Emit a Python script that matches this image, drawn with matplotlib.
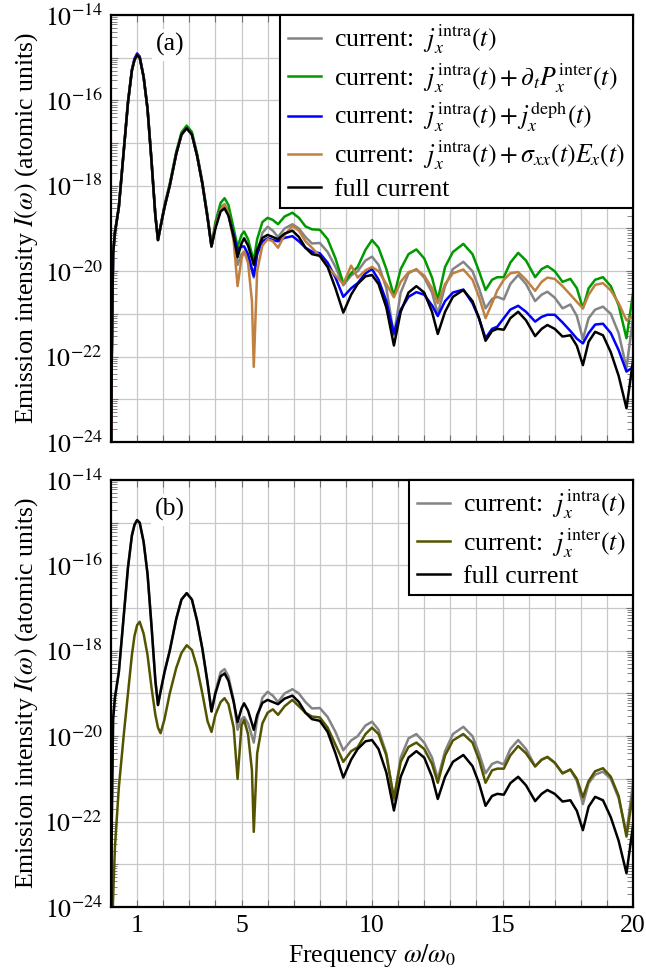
import numpy as np
import matplotlib
matplotlib.use("Agg")
import matplotlib.pyplot as plt
from matplotlib.ticker import FixedLocator, LogLocator, FuncFormatter, NullFormatter

plt.rcParams["font.family"] = ["Liberation Serif", "DejaVu Serif"]
plt.rcParams["mathtext.fontset"] = "stix"

# frequency omega/omega_0
FREQ = [0.0, 0.03, 0.08, 0.15, 0.3, 0.5, 0.65, 0.8, 0.9, 1.0,
        1.1, 1.25, 1.4, 1.55, 1.7, 1.8, 1.9, 2.05, 2.25, 2.5,
        2.7, 2.9, 3.1, 3.3, 3.5, 3.7, 3.85, 4.0, 4.2, 4.35,
        4.5, 4.7, 4.85, 5.0, 5.1, 5.25, 5.4, 5.47, 5.6, 5.8,
        6.0, 6.2, 6.4, 6.65, 6.95, 7.2, 7.45, 7.7, 8.0, 8.3,
        8.6, 8.9, 9.2, 9.45, 9.75, 10.0, 10.25, 10.55, 10.84, 11.1,
        11.4, 11.7, 12.0, 12.3, 12.52, 12.8, 13.1, 13.5, 13.85, 14.1,
        14.35, 14.6, 14.8, 15.05, 15.3, 15.6, 15.9, 16.25, 16.5, 16.72,
        17.0, 17.3, 17.6, 17.85, 18.08, 18.3, 18.55, 18.85, 19.15, 19.45,
        19.75, 20.0]

# log10 of the emission intensity
FULL = [-25.5, -22.0, -19.6, -19.1, -18.5, -17.1, -16.05, -15.3, -15.05, -14.94,
        -15.0, -15.45, -16.2, -17.4, -18.7, -19.27, -18.95, -18.5, -18.0, -17.25,
        -16.8, -16.65, -16.8, -17.3, -17.95, -18.75, -19.42, -19.0, -18.6, -18.53,
        -18.7, -19.2, -19.67, -19.35, -19.23, -19.4, -19.7, -19.85, -19.5, -19.22,
        -19.15, -19.2, -19.25, -19.12, -19.05, -19.2, -19.45, -19.6, -19.64, -19.9,
        -20.4, -20.97, -20.55, -20.3, -20.12, -20.09, -20.3, -20.85, -21.74, -20.95,
        -20.5, -20.35, -20.5, -20.95, -21.47, -20.95, -20.6, -20.44, -20.7, -21.1,
        -21.63, -21.4, -21.35, -21.37, -21.1, -20.95, -21.15, -21.52, -21.35, -21.26,
        -21.35, -21.53, -21.5, -21.75, -22.2, -21.65, -21.42, -21.5, -21.9, -22.45,
        -23.21, -22.1]

INTRA = [-25.5, -22.0, -19.6, -19.1, -18.5, -17.1, -16.05, -15.3, -15.05, -14.94,
         -15.0, -15.45, -16.2, -17.4, -18.7, -19.27, -18.95, -18.5, -18.0, -17.25,
         -16.8, -16.65, -16.8, -17.3, -17.95, -18.75, -19.42, -18.95, -18.5, -18.43,
         -18.6, -19.15, -19.85, -19.6, -19.55, -19.7, -20.0, -20.15, -19.6, -19.1,
         -18.96, -19.05, -19.2, -19.0, -18.9, -19.0, -19.2, -19.35, -19.34, -19.55,
         -19.9, -20.33, -20.1, -20.0, -19.75, -19.66, -19.85, -20.4, -21.5, -20.5,
         -20.05, -19.95, -20.15, -20.5, -21.0, -20.35, -19.95, -19.78, -20.0, -20.4,
         -20.87, -20.65, -20.6, -20.66, -20.3, -20.09, -20.3, -20.7, -20.55, -20.48,
         -20.62, -20.87, -20.78, -21.05, -21.59, -21.1, -20.9, -20.83, -21.0, -21.45,
         -22.27, -21.1]

INTRA_DPDT = [-25.5, -22.0, -19.6, -19.1, -18.5, -17.1, -16.05, -15.3, -15.05, -14.94,
              -15.0, -15.45, -16.2, -17.4, -18.7, -19.27, -18.95, -18.45, -17.95, -17.2,
              -16.75, -16.59, -16.74, -17.25, -17.9, -18.7, -19.4, -18.85, -18.4, -18.29,
              -18.45, -19.0, -19.43, -19.15, -19.07, -19.25, -19.6, -19.74, -19.25, -18.85,
              -18.75, -18.8, -18.9, -18.72, -18.63, -18.75, -18.95, -19.02, -19.03, -19.25,
              -19.7, -20.28, -20.05, -19.9, -19.5, -19.27, -19.45, -19.95, -20.58, -19.95,
              -19.6, -19.49, -19.7, -20.15, -20.67, -19.9, -19.55, -19.36, -19.6, -20.0,
              -20.44, -20.2, -20.14, -20.14, -19.8, -19.57, -19.75, -20.14, -19.95, -19.88,
              -20.0, -20.25, -20.18, -20.4, -20.87, -20.4, -20.2, -20.14, -20.35, -20.8,
              -21.57, -20.52]

INTRA_DEPH = [-25.5, -22.0, -19.6, -19.1, -18.5, -17.1, -16.05, -15.28, -15.02, -14.9,
              -14.97, -15.45, -16.2, -17.4, -18.7, -19.27, -18.95, -18.5, -18.0, -17.25,
              -16.8, -16.65, -16.8, -17.3, -17.95, -18.75, -19.42, -18.95, -18.55, -18.5,
              -18.68, -19.15, -19.5, -19.42, -19.42, -19.6, -19.95, -20.11, -19.6, -19.3,
              -19.23, -19.27, -19.3, -19.22, -19.18, -19.3, -19.45, -19.54, -19.58, -19.8,
              -20.15, -20.6, -20.4, -20.28, -20.05, -19.95, -20.2, -20.7, -21.46, -20.9,
              -20.6, -20.49, -20.55, -20.8, -21.05, -20.7, -20.5, -20.43, -20.75, -21.1,
              -21.57, -21.35, -21.3, -21.1, -20.9, -20.81, -20.95, -21.18, -21.07, -21.02,
              -21.02, -21.2, -21.4, -21.58, -21.69, -21.45, -21.25, -21.23, -21.45, -21.85,
              -22.35, -22.25]

INTRA_SIGMA = [-25.5, -22.0, -19.6, -19.1, -18.5, -17.1, -16.05, -15.3, -15.05, -14.94,
               -15.0, -15.45, -16.2, -17.4, -18.7, -19.27, -18.95, -18.5, -18.0, -17.25,
               -16.8, -16.65, -16.8, -17.3, -17.95, -18.75, -19.42, -18.95, -18.55, -18.45,
               -18.65, -19.3, -20.35, -19.7, -19.54, -19.8, -20.7, -22.24, -20.0, -19.4,
               -19.25, -19.3, -19.45, -19.15, -18.94, -19.05, -19.3, -19.45, -19.65, -19.9,
               -20.1, -20.3, -19.87, -20.15, -19.98, -19.9, -20.0, -20.3, -20.61, -20.25,
               -20.02, -19.97, -20.1, -20.4, -20.75, -20.3, -20.05, -19.96, -20.2, -20.6,
               -21.1, -20.75, -20.45, -20.2, -20.05, -20.02, -20.2, -20.46, -20.25, -20.15,
               -20.18, -20.35, -20.55, -20.72, -20.87, -20.55, -20.32, -20.28, -20.45, -20.75,
               -21.15, -21.05]

INTER = [-26.0, -25.0, -23.8, -22.6, -21.2, -19.9, -19.0, -18.1, -17.65, -17.4,
         -17.32, -17.6, -18.1, -18.85, -19.5, -19.8, -19.93, -19.6, -19.0, -18.4,
         -18.05, -17.87, -17.98, -18.4, -19.0, -19.65, -19.9, -19.5, -19.2, -19.11,
         -19.25, -19.8, -21.0, -19.75, -19.62, -19.95, -20.8, -22.24, -20.4, -19.7,
         -19.45, -19.37, -19.5, -19.3, -19.15, -19.3, -19.45, -19.54, -19.56, -19.8,
         -20.2, -20.6, -20.35, -20.26, -19.95, -19.8, -19.95, -20.45, -21.45, -20.6,
         -20.25, -20.15, -20.3, -20.65, -21.09, -20.45, -20.1, -19.95, -20.15, -20.55,
         -21.09, -20.8, -20.76, -20.76, -20.45, -20.23, -20.4, -20.71, -20.55, -20.49,
         -20.62, -20.87, -20.78, -21.0, -21.43, -21.05, -20.82, -20.75, -20.95, -21.4,
         -22.35, -21.34]

LAB_INTRA = r"current:  $j_x^{\mathrm{intra}}(t)$"
LAB_DPDT = r"current:  $j_x^{\mathrm{intra}}(t) + \partial_t P_x^{\mathrm{inter}}(t)$"
LAB_DEPH = r"current:  $j_x^{\mathrm{intra}}(t) + j_x^{\mathrm{deph}}(t)$"
LAB_SIGMA = r"current:  $j_x^{\mathrm{intra}}(t) + \sigma_{xx}(t)E_x(t)$"
LAB_INTER = r"current:  $j_x^{\mathrm{inter}}(t)$"
LAB_FULL = "full current"

GREY = "#848484"; GREEN = "#009a00"; BLUE = "#0000ff"
BROWN = "#c08040"; OLIVE = "#545400"; BLACK = "#000000"

W, H = 646, 971
FS = 18.5


def ax_rect(left, top, right, bottom):
    return [left / W, 1 - bottom / H, (right - left) / W, (bottom - top) / H]


def style(ax):
    ax.set_yscale("log")
    ax.set_xlim(0, 20)
    ax.set_ylim(1e-24, 1e-14)
    ax.xaxis.set_major_locator(FixedLocator(range(1, 21)))
    ax.xaxis.set_major_formatter(FuncFormatter(
        lambda v, p: f"{int(round(v))}" if int(round(v)) in (1, 5, 10, 15, 20) else ""))
    ax.yaxis.set_major_locator(FixedLocator([10.0 ** e for e in range(-24, -13)]))
    ax.yaxis.set_major_formatter(FuncFormatter(
        lambda v, p: rf"$10^{{{int(round(np.log10(v)))}}}$" if int(round(np.log10(v))) % 2 == 0 else ""))
    ax.yaxis.set_minor_locator(LogLocator(base=10, subs=np.arange(2, 10), numticks=100))
    ax.yaxis.set_minor_formatter(NullFormatter())
    ax.set_axisbelow(True)
    ax.grid(True, which="major", color="#c8c8c8", lw=0.9)
    ax.tick_params(which="both", direction="in", top=True, right=True,
                   color="#707070", labelsize=FS, pad=6)
    ax.tick_params(which="major", length=5, width=0.8)
    ax.tick_params(which="minor", length=4, width=0.6)
    for s in ax.spines.values():
        s.set_linewidth(1.6)
    ax.set_ylabel(r"Emission intensity $I(\omega)$ (atomic units)", fontsize=FS, labelpad=3)


def legend(ax):
    leg = ax.legend(loc="upper right", borderaxespad=0, fontsize=FS, fancybox=False,
                    framealpha=1, edgecolor="black", handlelength=1.3,
                    handletextpad=0.5, labelspacing=0.2, borderpad=0.3)
    leg.get_frame().set_linewidth(1.5)


def build():
    fig = plt.figure(figsize=(W / 100, H / 100), dpi=100)
    x = np.array(FREQ)

    ax = fig.add_axes(ax_rect(111, 15, 633, 442))
    style(ax)
    for vals, col, lab in [(INTRA, GREY, LAB_INTRA), (INTRA_DPDT, GREEN, LAB_DPDT),
                           (INTRA_DEPH, BLUE, LAB_DEPH), (INTRA_SIGMA, BROWN, LAB_SIGMA),
                           (FULL, BLACK, LAB_FULL)]:
        ax.plot(x, np.power(10.0, vals), color=col, lw=1.8, label=lab)
    ax.tick_params(labelbottom=False)
    legend(ax)
    ax.text(0.113, 0.93, "(a)", transform=ax.transAxes, ha="center", va="center",
            fontsize=FS, bbox=dict(fc="white", ec="none", pad=3))

    bx = fig.add_axes(ax_rect(111, 480, 633, 907))
    style(bx)
    for vals, col, lab in [(INTRA, GREY, LAB_INTRA), (INTER, OLIVE, LAB_INTER),
                           (FULL, BLACK, LAB_FULL)]:
        bx.plot(x, np.power(10.0, vals), color=col, lw=1.8, label=lab)
    legend(bx)
    bx.text(0.113, 0.93, "(b)", transform=bx.transAxes, ha="center", va="center",
            fontsize=FS, bbox=dict(fc="white", ec="none", pad=3))
    bx.set_xlabel(r"Frequency $\omega/\omega_0$", fontsize=FS, labelpad=3)

    fig.savefig("out.png", dpi=100)
    plt.close(fig)


if __name__ == "__main__":
    build()
